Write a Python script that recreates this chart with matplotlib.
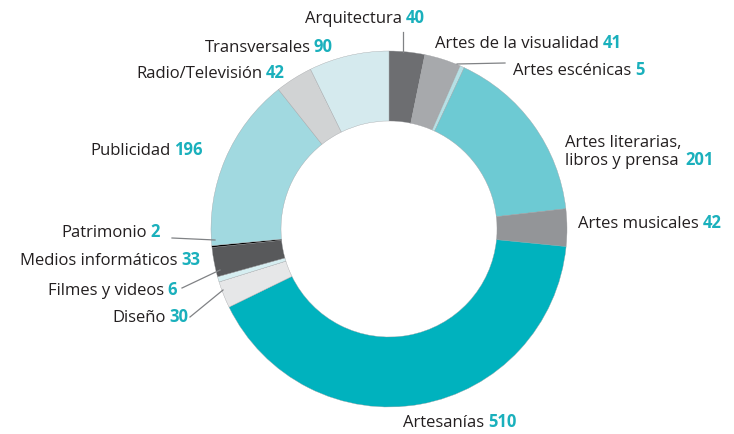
import matplotlib
matplotlib.use("Agg")
import matplotlib.pyplot as plt

# data, clockwise from 12 o'clock
categories = ["Arquitectura", "Artes de la visualidad", "Artes escénicas",
              "Artes literarias,\nlibros y prensa", "Artes musicales", "Artesanías",
              "Diseño", "Filmes y videos", "Medios informáticos", "Patrimonio",
              "Publicidad", "Radio/Televisión", "Transversales"]
values = [40, 41, 5, 201, 42, 510, 30, 6, 33, 2, 196, 42, 90]
colors = ["#6d6e71", "#a7a9ac", "#b5e0e5", "#6dcad3", "#939598", "#00b2be",
          "#e6e7e8", "#d6eef1", "#58595b", "#000000", "#a1d9e0", "#d1d3d4", "#d5eaee"]

# label placement in pixel coords: (x, baseline y, alignment)
label_pos = [(305, 23, "left"), (435, 48, "left"), (513, 75, "left"),
             (565, 165, "left"), (578, 228, "left"), (403, 427, "left"),
             (188, 322, "right"), (177, 295, "right"), (200, 265, "right"),
             (160, 237, "right"), (203, 155, "right"), (285, 78, "right"),
             (333, 52, "right")]

leaders = [[(403, 32), (403, 52)],
           [(457, 64), (505, 63)],
           [(172, 238), (215, 240)],
           [(182, 288), (220, 270)],
           [(190, 317), (223, 290)]]

plt.rcParams['font.family'] = ['Open Sans', 'DejaVu Sans']
TXT = "#231f20"
NUM = "#1ab0bc"
FS = 12

fig = plt.figure(figsize=(7.34, 4.34), dpi=100)
ax = fig.add_axes([0, 0, 1, 1])

# y is inverted, so counterclock=True draws clockwise on screen
ax.pie(values, colors=colors, startangle=-90, counterclock=True,
       center=(389, 229), radius=178, frame=True,
       wedgeprops=dict(width=70, edgecolor="#9d9fa2", linewidth=0.25))
ax.set_xlim(0, 734)
ax.set_ylim(434, 0)  # pixel coords, y down
ax.set_aspect('auto')
ax.axis('off')

for (x, y, ha), name, val in zip(label_pos, categories, values):
    if ha == "left":
        t = ax.text(x, y, name, ha="left", va="baseline", fontsize=FS, color=TXT)
        ax.annotate(str(val), xy=(1, 0), xycoords=t, xytext=(3, 0),
                    textcoords="offset points", ha="left", va="bottom",
                    fontsize=FS, color=NUM, fontweight="bold")
    else:
        n = ax.text(x, y, str(val), ha="right", va="baseline", fontsize=FS,
                    color=NUM, fontweight="bold")
        ax.annotate(name, xy=(0, 0), xycoords=n, xytext=(-2.5, 0),
                    textcoords="offset points", ha="right", va="bottom",
                    fontsize=FS, color=TXT)

for seg in leaders:
    xs, ys = zip(*seg)
    ax.plot(xs, ys, color="#808285", lw=0.9)

fig.savefig("out.png", dpi=100)
